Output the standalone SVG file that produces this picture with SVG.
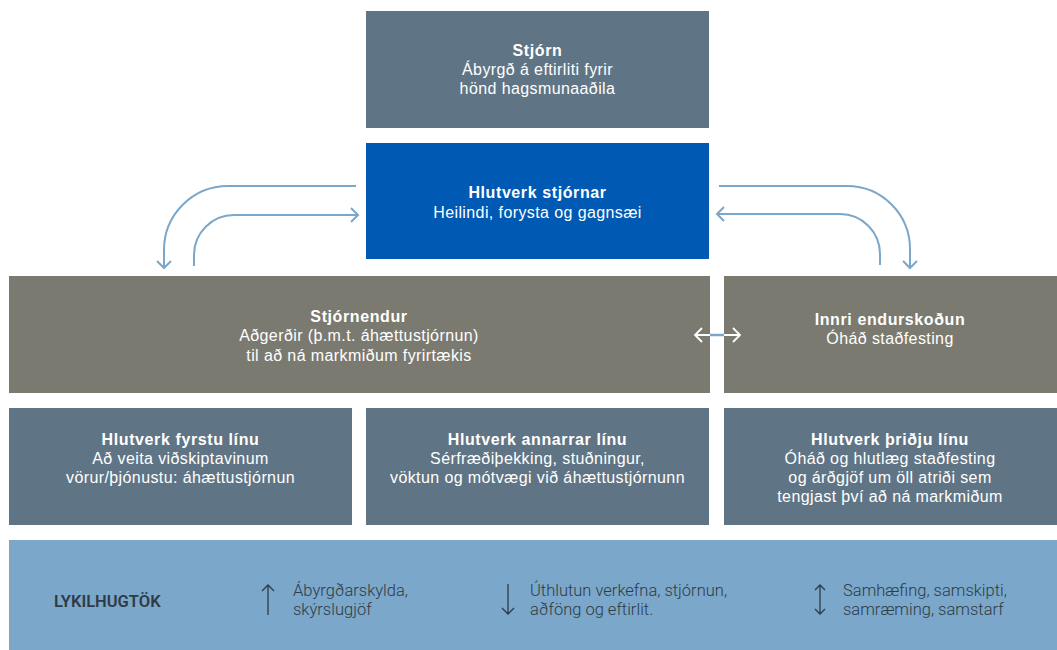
<svg xmlns="http://www.w3.org/2000/svg" width="1057" height="650" viewBox="0 0 1057 650">
<style>
.slate{fill:#5f7585}
.grey{fill:#7b7a70}
.blue{fill:#0059b3}
.band{fill:#7aa7ca}
text{font-family:"Liberation Sans",Arial,sans-serif;font-size:16px;fill:#ffffff;text-anchor:middle}
.t{font-weight:700;font-size:16px;letter-spacing:0.6px}
.s{font-weight:400;letter-spacing:0.4px}
.k{font-family:Roboto,"Liberation Sans",sans-serif;fill:#2f3b45;text-anchor:start;font-weight:300;font-size:16.5px;letter-spacing:0}
.kb{font-family:Roboto,"Liberation Sans",sans-serif;fill:#2f3b45;text-anchor:start;font-weight:600;font-size:16.5px;letter-spacing:0}
.con{fill:none;stroke:#7aa7ca;stroke-width:2}
.ka{fill:none;stroke:#2f3b45;stroke-width:1.3}
</style>
<rect x="0" y="0" width="1057" height="650" fill="#ffffff"/>
<g id="stjorn">
<rect class="slate" x="366" y="11" width="343" height="117"/>
<text class="t" x="537.5" y="56">Stjórn</text>
<text class="s" x="537.5" y="75">Ábyrgð á eftirliti fyrir</text>
<text class="s" x="537.5" y="94">hönd hagsmunaaðila</text>
</g>
<g id="hlutverk-stjornar">
<rect class="blue" x="366" y="143" width="343" height="116"/>
<text class="t" x="537.5" y="198">Hlutverk stjórnar</text>
<text class="s" x="537.5" y="217.5">Heilindi, forysta og gagnsæi</text>
</g>
<g id="stjornendur">
<rect class="grey" x="9" y="276" width="701" height="117"/>
<text class="t" x="359" y="322">Stjórnendur</text>
<text class="s" x="359" y="341">Aðgerðir (þ.m.t. áhættustjórnun)</text>
<text class="s" x="359" y="361">til að ná markmiðum fyrirtækis</text>
</g>
<g id="innri-endurskodun">
<rect class="grey" x="724" y="276" width="333" height="117"/>
<text class="t" x="890" y="325">Innri endurskoðun</text>
<text class="s" x="890" y="344">Óháð staðfesting</text>
</g>
<g id="fyrsta-lina">
<rect class="slate" x="9" y="408" width="343" height="117"/>
<text class="t" x="180.5" y="445">Hlutverk fyrstu línu</text>
<text class="s" x="180.5" y="464">Að veita viðskiptavinum</text>
<text class="s" x="180.5" y="483">vörur/þjónustu: áhættustjórnun</text>
</g>
<g id="onnur-lina">
<rect class="slate" x="366" y="408" width="343" height="117"/>
<text class="t" x="537.5" y="445">Hlutverk annarrar línu</text>
<text class="s" x="537.5" y="464">Sérfræðiþekking, stuðningur,</text>
<text class="s" x="537.5" y="483">vöktun og mótvægi við áhættustjórnunn</text>
</g>
<g id="thridja-lina">
<rect class="slate" x="724" y="408" width="333" height="117"/>
<text class="t" x="890" y="445">Hlutverk þriðju línu</text>
<text class="s" x="890" y="464">Óháð og hlutlæg staðfesting</text>
<text class="s" x="890" y="483">og árðgjöf um öll atriði sem</text>
<text class="s" x="890" y="502">tengjast því að ná markmiðum</text>
</g>
<g id="lykilhugtok">
<rect class="band" x="9" y="540" width="1048" height="110"/>
<text class="kb" x="54" y="607">LYKILHUGTÖK</text>
<path class="ka" d="M268 615 V585 M262 591 L268 585 L274 591"/>
<text class="k" x="293" y="596">Ábyrgðarskylda,</text>
<text class="k" x="293" y="615">skýrslugjöf</text>
<path class="ka" d="M508 584 V614 M502 608 L508 614 L514 608"/>
<text class="k" x="530" y="596">Úthlutun verkefna, stjórnun,</text>
<text class="k" x="530" y="615">aðföng og eftirlit.</text>
<path class="ka" d="M820 585 V614 M815 590 L820 585 L825 590 M815 609 L820 614 L825 609"/>
<text class="k" x="843" y="596">Samhæfing, samskipti,</text>
<text class="k" x="843" y="615">samræming, samstarf</text>
</g>
<g id="connectors">
<path class="con" d="M356 186 H228 A64 64 0 0 0 164 250 V268"/>
<path class="con" d="M157 261 L164 268 L171 261"/>
<path class="con" d="M194 266 V255 A40 40 0 0 1 234 215 H358"/>
<path class="con" d="M351 208 L358 215 L351 222"/>
<path class="con" d="M719 186 H847 A63 63 0 0 1 910 249 V268"/>
<path class="con" d="M903 261 L910 268 L917 261"/>
<path class="con" d="M880 265 V254 A40 40 0 0 0 840 214 H717"/>
<path class="con" d="M724 207 L717 214 L724 221"/>
<path d="M695 335 H740 M702 328 L695 335 L702 342 M733 328 L740 335 L733 342" fill="none" stroke="#ffffff" stroke-width="1.8"/>
<path d="M710 335 H724" fill="none" stroke="#7aa7ca" stroke-width="2.5"/>
</g>
</svg>
